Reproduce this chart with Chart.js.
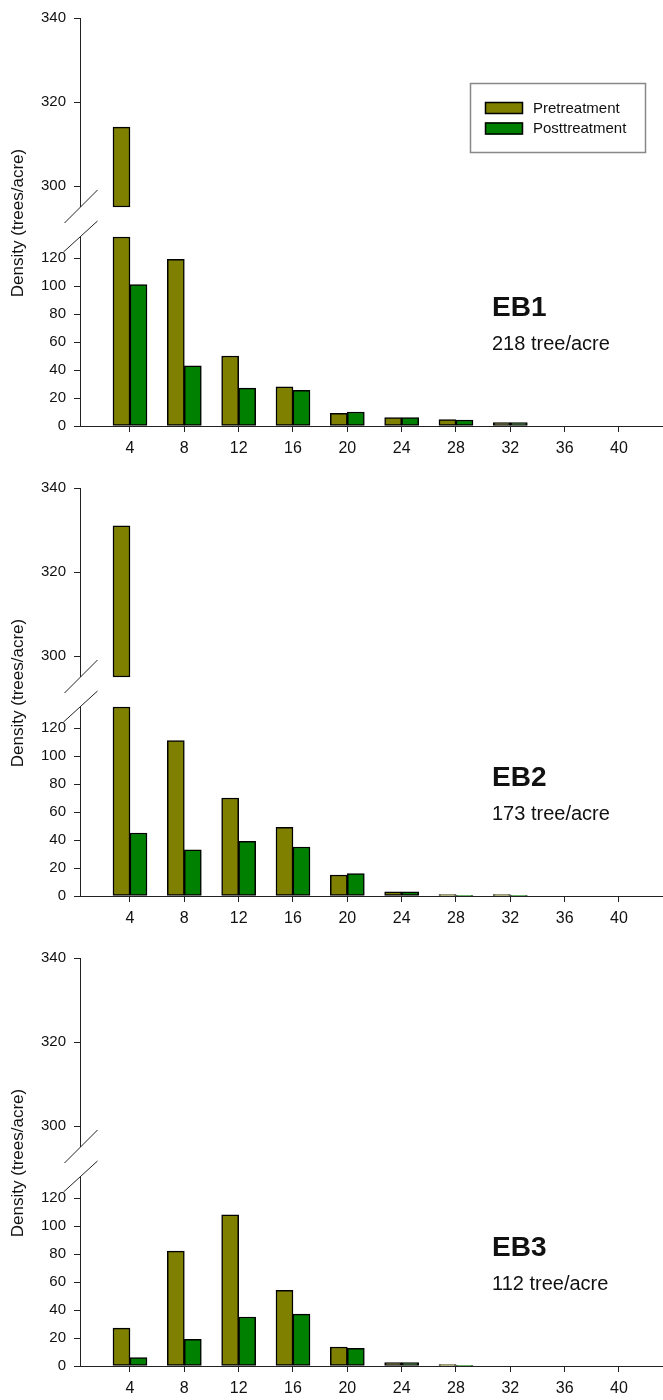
<!DOCTYPE html>
<html>
<head>
<meta charset="utf-8">
<script src="https://cdn.jsdelivr.net/npm/chart.js@4/dist/chart.umd.min.js"></script>
<style>
  body { margin: 0; background: #fff; }
  .panel { width: 663px; height: 470px; }
  canvas { display: block; }
</style>
</head>
<body>
<div class="panel"><canvas id="eb1" width="663" height="470"></canvas></div>
<div class="panel"><canvas id="eb2" width="663" height="470"></canvas></div>
<div class="panel"><canvas id="eb3" width="663" height="470"></canvas></div>
<script>
// diameter classes (x axis)
const sizeClasses = [4, 8, 12, 16, 20, 24, 28, 32, 36, 40];

// density, trees/acre
const eb1Pre  = [314, 119, 50, 28, 9, 6, 4.5, 2.5, 0, 0];
const eb1Post = [101, 43, 27, 25.5, 10, 6, 4.3, 2.5, 0, 0];
const eb2Pre  = [331, 111, 70, 49, 15, 3, 1, 1, 0, 0];
const eb2Post = [45, 33, 39, 35, 16, 3, 0.5, 0.5, 0, 0];
const eb3Pre  = [27, 82, 108, 54, 13.6, 2.5, 1, 0, 0, 0];
const eb3Post = [6, 19, 35, 37, 12.6, 2.5, 0.5, 0, 0, 0];

const standNames = ['EB1', 'EB2', 'EB3'];
const standTotals = ['218 tree/acre', '173 tree/acre', '112 tree/acre'];
const seriesLabels = ['Pretreatment', 'Posttreatment'];

const yTicksLow = [0, 20, 40, 60, 80, 100, 120];
const yTicksHigh = [300, 320, 340];

// axis break
const LOW_MAX = 135;
const HIGH_MIN = 295;
const GAP_PX = 30;

const PRE_COLOR = '#808000';
const POST_COLOR = '#008000';

Chart.defaults.font.family = '"Liberation Sans", Arial, sans-serif';
Chart.defaults.color = '#111';

// linear scale with a gap between LOW_MAX and HIGH_MIN
class BrokenLinearScale extends Chart.LinearScale {
    buildTicks() {
        return yTicksLow.concat(yTicksHigh).map(function (v) { return { value: v }; });
    }
    getPixelForValue(v) {
        const seg = (this.bottom - this.top - GAP_PX) / 2;
        if (v <= LOW_MAX) {
            return this.bottom - (v - this.min) / (LOW_MAX - this.min) * seg;
        }
        if (v >= HIGH_MIN) {
            return this.top + (this.max - v) / (this.max - HIGH_MIN) * seg;
        }
        return this.bottom - seg - (v - LOW_MAX) / (HIGH_MIN - LOW_MAX) * GAP_PX;
    }
    getValueForPixel(p) {
        const seg = (this.bottom - this.top - GAP_PX) / 2;
        if (p >= this.bottom - seg) {
            return this.min + (this.bottom - p) / seg * (LOW_MAX - this.min);
        }
        if (p <= this.top + seg) {
            return this.max - (p - this.top) / seg * (this.max - HIGH_MIN);
        }
        return LOW_MAX + (this.bottom - seg - p) / GAP_PX * (HIGH_MIN - LOW_MAX);
    }
}
BrokenLinearScale.id = 'brokenLinear';
BrokenLinearScale.defaults = Chart.LinearScale.defaults;
Chart.register(BrokenLinearScale);

const decorPlugin = {
    id: 'decor',
    afterDraw: function (chart, args, opts) {
        const ctx = chart.ctx;
        const y = chart.scales.y;
        const x0 = Math.round(chart.chartArea.left) + 0.5;
        const yHigh = y.getPixelForValue(HIGH_MIN);
        const yLow = y.getPixelForValue(LOW_MAX);

        ctx.save();
        ctx.strokeStyle = '#222';
        ctx.lineWidth = 1;
        ctx.beginPath();
        ctx.moveTo(x0, y.top);
        ctx.lineTo(x0, yHigh);
        ctx.moveTo(x0, yLow);
        ctx.lineTo(x0, y.bottom);
        // break marks
        ctx.moveTo(x0 - 16, yHigh + 16);
        ctx.lineTo(x0 + 17, yHigh - 17);
        ctx.moveTo(x0 - 17, yLow + 15);
        ctx.lineTo(x0 + 17, yLow - 16);
        ctx.stroke();

        // y title
        ctx.fillStyle = '#111';
        ctx.font = '17px "Liberation Sans", Arial, sans-serif';
        ctx.translate(18, 223);
        ctx.rotate(-Math.PI / 2);
        ctx.textAlign = 'center';
        ctx.textBaseline = 'middle';
        ctx.fillText('Density (trees/acre)', 0, 0);
        ctx.restore();

        // stand label
        ctx.save();
        ctx.fillStyle = '#111';
        ctx.textAlign = 'left';
        ctx.textBaseline = 'middle';
        ctx.font = 'bold 28px "Liberation Sans", Arial, sans-serif';
        ctx.fillText(opts.name, 492, 308);
        ctx.font = '20px "Liberation Sans", Arial, sans-serif';
        ctx.fillText(opts.total, 492, 344);

        if (opts.showLegend) {
            ctx.strokeStyle = '#888';
            ctx.lineWidth = 1.5;
            ctx.strokeRect(470.5, 83.5, 175, 69);
            const colors = [PRE_COLOR, POST_COLOR];
            ctx.font = '15px "Liberation Sans", Arial, sans-serif';
            for (let i = 0; i < seriesLabels.length; i++) {
                const top = 102 + i * 20.5;
                ctx.fillStyle = colors[i];
                ctx.fillRect(485, top, 38, 12);
                ctx.strokeStyle = '#000';
                ctx.lineWidth = 1.5;
                ctx.strokeRect(485.5, top + 0.5, 37, 11);
                ctx.fillStyle = '#111';
                ctx.fillText(seriesLabels[i], 533, top + 6.5);
            }
        }
        ctx.restore();
    }
};

function drawPanel(canvasId, pre, post, name, total, showLegend) {
    const lowPre = sizeClasses.map(function (x, i) { return { x: x, y: Math.min(pre[i], LOW_MAX) }; });
    const highPre = sizeClasses.map(function (x, i) { return { x: x, y: pre[i] > HIGH_MIN ? [HIGH_MIN, pre[i]] : null }; });
    const lowPost = sizeClasses.map(function (x, i) { return { x: x, y: post[i] }; });

    const barStyle = {
        borderColor: '#000',
        borderWidth: 1.5,
        borderSkipped: false,
        barThickness: 17
    };

    const ctx = document.getElementById(canvasId).getContext('2d');
    new Chart(ctx, {
        type: 'bar',
        data: {
            datasets: [
                Object.assign({ label: seriesLabels[0], data: lowPre, stack: 'pre', backgroundColor: PRE_COLOR }, barStyle),
                Object.assign({ label: seriesLabels[1], data: lowPost, stack: 'post', backgroundColor: POST_COLOR }, barStyle),
                Object.assign({ label: seriesLabels[0], data: highPre, stack: 'pre', backgroundColor: PRE_COLOR }, barStyle)
            ]
        },
        options: {
            responsive: false,
            animation: false,
            devicePixelRatio: 1,
            layout: { padding: { top: 18, left: 0, right: 0, bottom: 0 } },
            plugins: {
                legend: { display: false },
                tooltip: { enabled: false },
                decor: { name: name, total: total, showLegend: showLegend }
            },
            scales: {
                x: {
                    type: 'linear',
                    min: 0.32,
                    max: 43.24,
                    offset: false,
                    grid: { offset: false, drawOnChartArea: false, drawTicks: true, tickLength: 6, color: '#222' },
                    border: { display: true, color: '#222', width: 1 },
                    ticks: {
                        stepSize: 4,
                        includeBounds: false,
                        autoSkip: false,
                        maxRotation: 0,
                        padding: 7,
                        font: { size: 16 },
                        callback: function (v) { return (v >= 4 && v <= 40) ? String(v) : ''; }
                    },
                    afterFit: function (scale) { scale.height = 44; }
                },
                y: {
                    type: 'brokenLinear',
                    min: 0,
                    max: 340,
                    stacked: false,
                    grid: { drawOnChartArea: false, drawTicks: true, tickLength: 6, color: '#222' },
                    border: { display: false },
                    ticks: {
                        padding: 8,
                        font: { size: 15 },
                        autoSkip: false,
                        callback: function (v) { return String(v); }
                    },
                    afterFit: function (scale) { scale.width = 80; }
                }
            }
        },
        plugins: [decorPlugin]
    });
}

drawPanel('eb1', eb1Pre, eb1Post, standNames[0], standTotals[0], true);
drawPanel('eb2', eb2Pre, eb2Post, standNames[1], standTotals[1], false);
drawPanel('eb3', eb3Pre, eb3Post, standNames[2], standTotals[2], false);
</script>
</body>
</html>
